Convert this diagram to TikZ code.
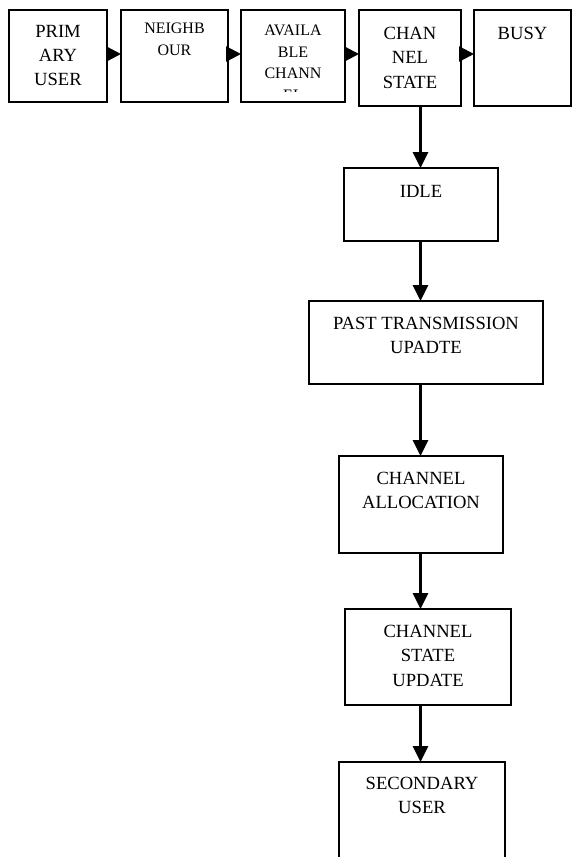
\documentclass[tikz,border=0pt]{standalone}
\usepackage{fontspec}
\setmainfont{Liberation Serif}
\usetikzlibrary{arrows.meta}
\begin{document}
\begin{tikzpicture}[x=1pt,y=-1pt,
  box/.style={draw,line width=2pt,inner sep=0pt,outer sep=0pt,anchor=north west},
  txt/.style={inner sep=0pt,anchor=north,align=center,font=\fontsize{18.6}{24.3}\selectfont},
  smalltxt/.style={txt,font=\fontsize{16}{21.5}\selectfont},
  harrow/.style={line width=2.5pt,-{Triangle[length=15pt,width=15pt]}},
  varrow/.style={line width=2.8pt,-{Triangle[length=16pt,width=15pt]}}]
\clip (0,0) rectangle (572,857);
% top row
\node[box,minimum width=98pt,minimum height=92pt] (pu) at (9,10) {};
\node[box,minimum width=107pt,minimum height=92pt] (nb) at (121,10) {};
\node[box,minimum width=104pt,minimum height=92pt] (av) at (241,10) {};
\node[box,minimum width=102pt,minimum height=96pt] (cs) at (359,10) {};
\node[box,minimum width=97pt,minimum height=96pt] (busy) at (474,10) {};
\node[txt] (put) at ([yshift=-15pt]pu.north) {PRIM\\ARY\\USER};
\node[smalltxt] (nbt) at ([yshift=-13pt]nb.north) {NEIGHB\\OUR};
\begin{scope}
  \clip (241,10) rectangle (345,91);
  \node[smalltxt] (avt) at ([yshift=-15pt]av.north) {AVAILA\\BLE\\CHANN\\EL};
\end{scope}
\node[txt] (cst) at ([yshift=-17pt]cs.north) {CHAN\\NEL\\STATE};
\node[txt] (busyt) at ([yshift=-17pt]busy.north) {BUSY};
% column
\node[box,minimum width=154pt,minimum height=73pt] (idle) at (344,168) {};
\node[box,minimum width=234pt,minimum height=83pt] (past) at (309,301) {};
\node[box,minimum width=164pt,minimum height=97pt] (alloc) at (339,456) {};
\node[box,minimum width=166pt,minimum height=96pt] (upd) at (345,609) {};
\node[box,minimum width=166pt,minimum height=120pt] (sec) at (339,762) {};
\node[txt] (idlet) at ([yshift=-17pt]idle.north) {IDLE};
\node[txt] (pastt) at ([yshift=-16pt]past.north) {PAST TRANSMISSION\\UPADTE};
\node[txt] (alloct) at ([yshift=-16pt]alloc.north) {CHANNEL\\ALLOCATION};
\node[txt] (updt) at ([yshift=-16pt]upd.north) {CHANNEL\\STATE\\UPDATE};
\node[txt] (sect) at ([yshift=-15pt]sec.north) {SECONDARY\\USER};
% horizontal arrows
\coordinate (row) at (0,54);
\draw[harrow] (pu.east |- row) -- (nb.west |- row);
\draw[harrow] (nb.east |- row) -- (av.west |- row);
\draw[harrow] (av.east |- row) -- (cs.west |- row);
\draw[harrow] (cs.east |- row) -- (busy.west |- row);
% vertical arrows
\coordinate (col) at (420.5,0);
\draw[varrow] (cs.south -| col) -- (idle.north -| col);
\draw[varrow] (idle.south -| col) -- (past.north -| col);
\draw[varrow] (past.south -| col) -- (alloc.north -| col);
\draw[varrow] (alloc.south -| col) -- (upd.north -| col);
\draw[varrow] (upd.south -| col) -- (sec.north -| col);
\end{tikzpicture}
\end{document}
